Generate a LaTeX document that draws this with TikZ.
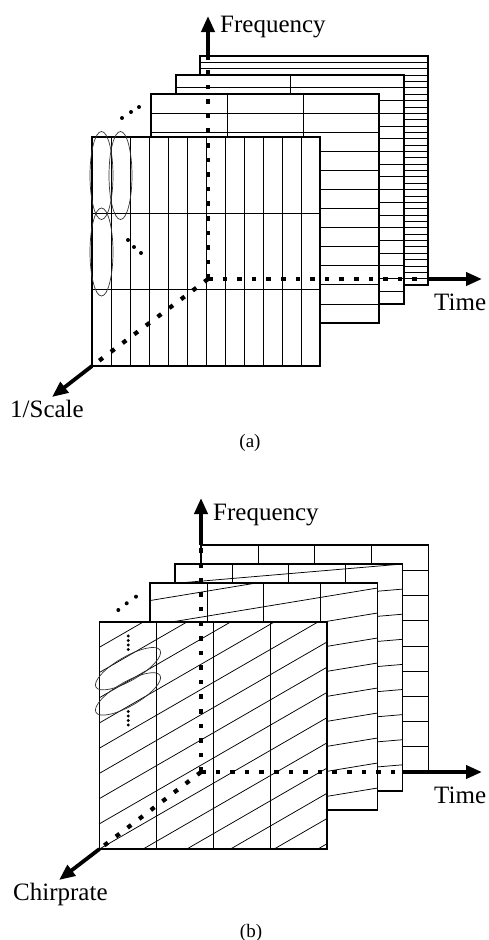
\documentclass[tikz,border=0pt]{standalone}
\usepackage{fontspec}
\setmainfont{Liberation Serif}
\usetikzlibrary{arrows.meta}
\begin{document}
\begin{tikzpicture}[x=1pt,y=-1pt,
  frm/.style={draw,line width=1.8pt},
  gridln/.style={line width=0.75pt},
  axisdash/.style={line width=4.2pt, dash pattern=on 4.6pt off 10pt},
  axisarrow/.style={line width=3.8pt,-{Triangle[length=16pt,width=13pt]}},
  ell/.style={line width=0.7pt, draw=black!80},
  dotf/.style={fill=black},
  lbl/.style={font=\fontsize{25}{30}\selectfont, inner sep=0pt},
  captxt/.style={font=\fontsize{19}{23}\selectfont, inner sep=0pt}]
\useasboundingbox (0,0) rectangle (489,940);
\fill[white] (0,0) rectangle (489,940);

% ================= (a) =================
% frame 4 : 1 column, 36 rows
\fill[white] (200,56) rectangle ++(228,229);
\foreach \k in {1,...,35} \draw[gridln] (200,56+229*\k/36) -- ++(228,0);
\draw[frm] (200,56) rectangle ++(228,229);
% frame 3 : 2 columns, 18 rows
\fill[white] (176,75) rectangle ++(228,229);
\foreach \k in {1,...,17} \draw[gridln] (176,75+229*\k/18) -- ++(228,0);
\draw[gridln] (290,75) -- ++(0,229);
\draw[frm] (176,75) rectangle ++(228,229);
% frame 2 : 3 columns, 12 rows
\fill[white] (151,94) rectangle ++(228,229);
\foreach \k in {1,...,11} \draw[gridln] (151,94+229*\k/12) -- ++(228,0);
\foreach \i in {1,2} \draw[gridln] (151+76*\i,94) -- ++(0,229);
\draw[frm] (151,94) rectangle ++(228,229);
% frame 1 : 12 columns, 3 rows
\fill[white] (92,137) rectangle ++(228,229);
\foreach \k in {1,2} \draw[gridln] (92,137+229*\k/3) -- ++(228,0);
\foreach \i in {1,...,11} \draw[gridln] (92+19*\i,137) -- ++(0,229);
\draw[frm] (92,137) rectangle ++(228,229);
% ellipses
\draw[ell] (101.5,175.5) ellipse [x radius=11.5, y radius=44];
\draw[ell] (120.5,175.5) ellipse [x radius=11.5, y radius=44];
\draw[ell] (101.5,252) ellipse [x radius=11.5, y radius=44];
% dots
\foreach \p in {(122,118),(131,112),(139,107),(128,240),(134,247),(141,253)}
  \fill[dotf] \p circle (2);
% axes
\coordinate (Oa) at (208,279);
\coordinate (Fa) at (208,56);
\coordinate (FaT) at (208,16);
\coordinate (Ta) at (428,279);
\coordinate (TaT) at (482,279);
\coordinate (Sa) at (92,366);
\coordinate (SaT) at (52,397);
\draw[axisdash] (Oa) -- (Fa);
\draw[axisdash] (Oa) -- (Ta);
\draw[axisdash] (Oa) -- (Sa);
\draw[axisarrow] (Fa) -- (FaT);
\draw[axisarrow] (Ta) -- (TaT);
\draw[axisarrow] (Sa) -- (SaT);
\node[lbl, anchor=base west] (fa) at (220,32) {Frequency};
\node[lbl, anchor=base west] (ta) at (434,310) {Time};
\node[lbl, anchor=base west] (sa) at (10,417) {1/Scale};
\node[captxt] (ca) at (250,443) {(a)};

% ================= (b) =================
% frame 4 : horizontal rows
\fill[white] (201,545) rectangle ++(227.5,227);
\foreach \k in {1,...,8} \draw[gridln] (201,545+25.22*\k) -- ++(227.5,0);
\foreach \i in {1,2,3} \draw[gridln] (201+56.875*\i,545) -- ++(0,227);
\draw[frm] (201,545) rectangle ++(227.5,227);
% frame 3
\fill[white] (175,564) rectangle ++(227.5,227);
\begin{scope}
\clip (175,564) rectangle ++(227.5,227);
\foreach \k in {0,...,8}
  \draw[gridln] (402.5,564+25.1*\k) -- (175,564+25.1*\k+227.5*0.085);
\end{scope}
\foreach \i in {1,2,3} \draw[gridln] (175+56.875*\i,564) -- ++(0,227);
\draw[frm] (175,564) rectangle ++(227.5,227);
% frame 2
\fill[white] (150,583) rectangle ++(227.5,227);
\begin{scope}
\clip (150,583) rectangle ++(227.5,227);
\foreach \k in {-1,...,8}
  \draw[gridln] (377.5,588+25.0*\k) -- (150,588+25.0*\k+227.5*0.165);
\end{scope}
\foreach \i in {1,2,3} \draw[gridln] (150+56.875*\i,583) -- ++(0,227);
\draw[frm] (150,583) rectangle ++(227.5,227);
% frame 1
\fill[white] (99.5,622) rectangle ++(227.5,227);
\begin{scope}
\clip (99.5,622) rectangle ++(227.5,227);
\foreach \k in {1,...,14}
  \draw[gridln] (99.5,622+25.22*\k) -- ++(300,-173.2);
\end{scope}
\foreach \i in {1,2,3} \draw[gridln] (99.5+56.875*\i,622) -- ++(0,227);
\draw[frm] (99.5,622) rectangle ++(227.5,227);
% ellipses
\draw[ell, rotate around={30:(128,668.7)}] (128,668.7) ellipse [x radius=37, y radius=12];
\draw[ell, rotate around={30:(128,693.9)}] (128,693.9) ellipse [x radius=37, y radius=12];
% dots
\foreach \p in {(118.3,610),(126.7,603.3),(136,596.7)}
  \fill[dotf] \p circle (2);
\foreach \yy in {636,640.5,645,649.5,711.5,716,720.5,725}
  \fill[dotf] (128.3,\yy) circle (1.6);
% axes
\coordinate (Ob) at (201,772);
\coordinate (Fb) at (201,545);
\coordinate (FbT) at (201,498);
\coordinate (Tb) at (402.5,772);
\coordinate (TbT) at (482,772);
\coordinate (Sb) at (99.5,849);
\coordinate (SbT) at (59,880);
\draw[axisdash] (Ob) -- (Fb);
\draw[axisdash] (Ob) -- (Tb);
\draw[axisdash] (Ob) -- (Sb);
\draw[axisarrow] (Fb) -- (FbT);
\draw[axisarrow] (Tb) -- (TbT);
\draw[axisarrow] (Sb) -- (SbT);
\node[lbl, anchor=base west] (fb) at (213,520) {Frequency};
\node[lbl, anchor=base west] (tb) at (434,803) {Time};
\node[lbl, anchor=base west] (sb) at (13,900) {Chirprate};
\node[captxt] (cb) at (251,933) {(b)};
\end{tikzpicture}
\end{document}
